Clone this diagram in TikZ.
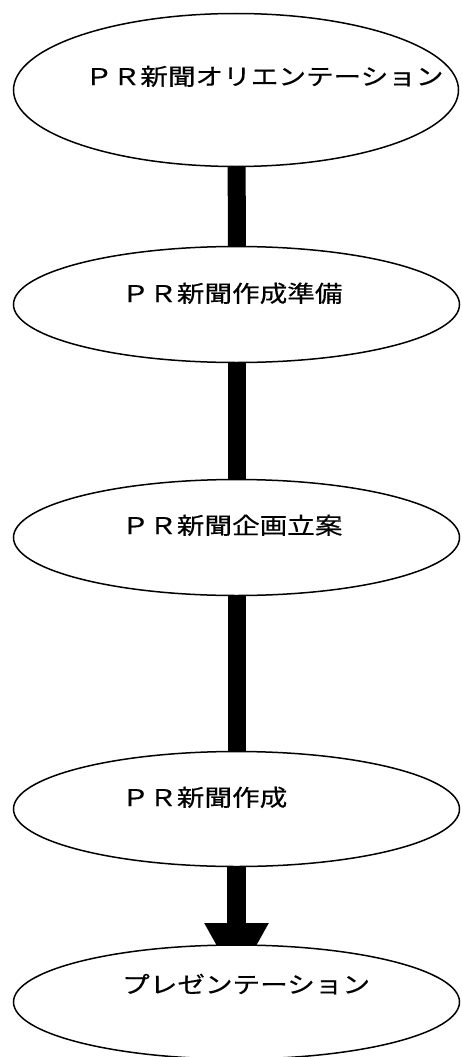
\documentclass[tikz,border=0pt]{standalone}
\usepackage{fontspec}
\usepackage{graphicx}
\newfontfamily\jp[FakeBold=0.4]{Noto Sans CJK JP}
\usetikzlibrary{shapes.geometric,arrows.meta,backgrounds}
\tikzset{
  stage/.style={ellipse, draw=black, line width=1.5pt, fill=white, inner sep=0pt, minimum width=446pt},
  lbl/.style={anchor=base west, inner sep=0pt, font=\jp\fontsize{23pt}{27pt}\selectfont},
  bar/.style={line width=18pt, draw=black},
}
\newcommand{\wide}[1]{\scalebox{1.2}[1]{#1}}
\begin{document}
\begin{tikzpicture}[x=1pt,y=-1pt]
\useasboundingbox (0,0) rectangle (461,1057);
\node[stage, minimum width=445pt, minimum height=153pt] (e1) at (236,90) {};
\node[stage, minimum height=116pt] (e2) at (236.5,304.5) {};
\node[stage, minimum height=116pt] (e3) at (236.5,537.5) {};
\node[stage, minimum height=115pt] (e4) at (236.5,809) {};
\node[stage, minimum height=114pt] (e5) at (236.5,1002) {};
\begin{scope}[on background layer]
  \draw[bar] ([xshift=0.5pt]e1.center) -- ([xshift=0.5pt]e2.center);
  \draw[bar] (e2.center) -- (e3.center);
  \draw[bar] (e3.center) -- (e4.center);
  \draw[line width=19pt, -{Triangle[width=60pt,length=59pt]}, shorten >=20pt] (e4.center) -- (e5.center);
\end{scope}
\node[lbl] (t1) at (85,85) {\wide{ＰＲ新聞オリエンテーション}};
\node[lbl] (t2) at (121.5,302) {\wide{ＰＲ新聞作成準備}};
\node[lbl] (t3) at (121.5,534) {\wide{ＰＲ新聞企画立案}};
\node[lbl] (t4) at (121.5,806) {\wide{ＰＲ新聞作成}};
\node[lbl] (t5) at (122,993) {\wide{プレゼンテーション}};
\end{tikzpicture}
\end{document}
